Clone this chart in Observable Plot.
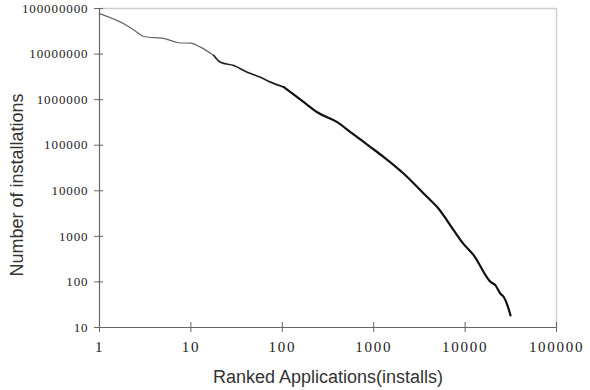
<!DOCTYPE html>
<html>
<head>
<meta charset="utf-8">
<script src="https://cdn.jsdelivr.net/npm/d3@7"></script>
<script src="https://cdn.jsdelivr.net/npm/@observablehq/plot@0.6"></script>
<style>
  html, body { margin: 0; padding: 0; background: #fff; }
  #chart svg { display: block; }
  g[aria-label="y-axis tick label"] text { letter-spacing: 0.9px; }
  g[aria-label="x-axis tick label"] text { letter-spacing: 1.7px; }
</style>
</head>
<body>
<div id="chart"></div>
<script>
// Ranked applications (x) and number of installations (y)
const ranks = [1, 2.09, 2.5, 3.05, 5.27, 7.38, 9.9, 12.7, 17.8, 21.1, 29.5, 41.3, 57.7, 74.3, 104, 172, 241, 399, 557, 923, 1290, 2135, 3850, 4950, 7520, 9300, 12450, 18970, 21500, 24400, 26500, 29500, 31400];
const installs = [77000000, 40000000, 31300000, 24300000, 21600000, 17700000, 17300000, 14200000, 9300000, 6600000, 5600000, 4000000, 3100000, 2420000, 1880000, 880000, 530000, 321000, 194000, 91000, 55000, 23700, 7300, 4400, 1355, 740, 383, 100, 84, 55, 46.7, 28, 18.5];
const xTicks = [1, 10, 100, 1000, 10000, 100000];
const yTicks = [10, 100, 1000, 10000, 100000, 1000000, 10000000, 100000000];
const xTitle = "Ranked Applications(installs)";
const yTitle = "Number of installations";

const data = ranks.map((r, i) => ({rank: r, n: installs[i]}));
const W = 590, H = 390, mL = 99, mR = 34, mT = 8, mB = 63;
const plotW = W - mL - mR, plotH = H - mT - mB;

const chart = Plot.plot({
  width: W,
  height: H,
  marginLeft: mL,
  marginRight: mR,
  marginTop: mT,
  marginBottom: mB,
  style: {fontFamily: "Liberation Serif", background: "#fff", overflow: "visible"},
  x: {type: "log", domain: [1, 100000]},
  y: {type: "log", domain: [10, 100000000]},
  marks: [
    Plot.ruleY([100000000], {stroke: "#cfcfcf", strokeWidth: 1.5}),
    Plot.ruleX([100000], {stroke: "#cfcfcf", strokeWidth: 1.5}),
    Plot.ruleX([1], {stroke: "#666", strokeWidth: 1.2}),
    Plot.ruleY([10], {stroke: "#666", strokeWidth: 1.2}),
    // inward halves of ticks
    Plot.tickY(yTicks, {y: d => d, stroke: "#666", insetRight: plotW - 4}),
    Plot.tickX(xTicks, {x: d => d, stroke: "#666", insetTop: plotH - 5}),
    Plot.axisY(yTicks, {
      tickSize: 5, tickPadding: 6, stroke: "#666",
      tickFormat: d => String(d), fontSize: 13,
      fill: "#222", label: null
    }),
    Plot.axisX(xTicks, {
      tickSize: 5, tickPadding: 9, stroke: "#666",
      tickFormat: d => String(d), fontSize: 15,
      fill: "#222", label: null
    }),
    Plot.line(data.filter(d => d.rank <= 17.8), {x: "rank", y: "n", stroke: "#666", strokeWidth: 1.2, curve: "monotone-x"}),
    Plot.line(data.filter(d => d.rank >= 17.8 && d.rank <= 104), {x: "rank", y: "n", stroke: "#222", strokeWidth: 1.7, curve: "monotone-x"}),
    Plot.line(data.filter(d => d.rank >= 104), {x: "rank", y: "n", stroke: "#111", strokeWidth: 2.2, curve: "monotone-x"}),
    Plot.text([xTitle], {
      frameAnchor: "bottom", dy: 55, text: d => d, lineAnchor: "bottom",
      fontFamily: "Liberation Sans", fontSize: 18, fill: "#333"
    }),
    Plot.text([yTitle], {
      frameAnchor: "left", dx: -82, dy: 17, rotate: -90, text: d => d,
      textAnchor: "middle", lineAnchor: "middle",
      fontFamily: "Liberation Sans", fontSize: 18, fill: "#333"
    })
  ]
});
document.getElementById("chart").appendChild(chart);
</script>
</body>
</html>
